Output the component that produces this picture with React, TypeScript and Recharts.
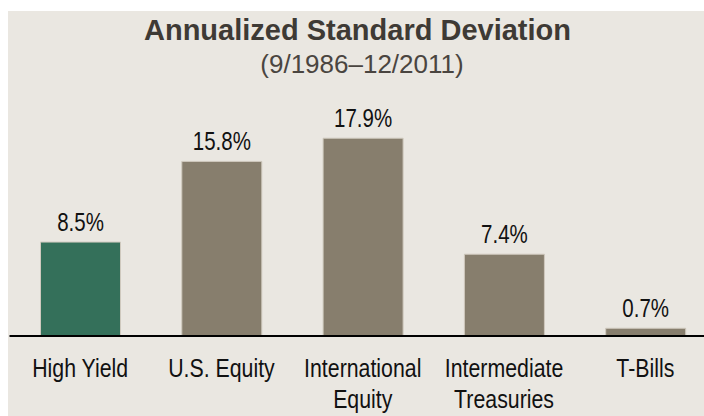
import React from 'react'
import { BarChart, Bar, XAxis, YAxis, Cell, LabelList } from 'recharts'

const categories = ['High Yield', 'U.S. Equity', 'International\nEquity', 'Intermediate\nTreasuries', 'T-Bills']
const stdDev = [8.5, 15.8, 17.9, 7.4, 0.7]
const barColors = ['#34705a', '#877e6d', '#877e6d', '#877e6d', '#877e6d']

const data = categories.map((name, i) => ({ name, value: stdDev[i] }))

const sans = "'Liberation Sans', Arial, sans-serif"
// no Arial Narrow installed, so squeeze Liberation Sans horizontally
const squeeze = 0.82

// eslint-disable-next-line @typescript-eslint/no-explicit-any
const CategoryTick = (props: any) => {
  const { x, y, payload } = props
  const lines = String(payload.value).split('\n')
  return (
    <g transform={`translate(${x},${y}) scale(${squeeze},1)`}>
      {lines.map((line, i) => (
        <text key={line} x={0} y={41 + i * 31} textAnchor="middle" fontFamily={sans} fontSize={26} fill="#111">
          {line}
        </text>
      ))}
    </g>
  )
}

// eslint-disable-next-line @typescript-eslint/no-explicit-any
const ValueLabel = (props: any) => {
  const { x, y, width, value } = props
  return (
    <g transform={`translate(${x + width / 2},${y - 11}) scale(${squeeze},1)`}>
      <text x={0} y={0} textAnchor="middle" fontFamily={sans} fontSize={25} fill="#111">
        {`${Number(value).toFixed(1)}%`}
      </text>
    </g>
  )
}

export default function App() {
  return (
    <div style={{ position: 'fixed', left: 8, top: 11, width: 710, height: 405, background: '#eae7e1', overflow: 'hidden' }}>
      <svg width={696} height={80} style={{ position: 'absolute', left: 0, top: 0 }}>
        <text x={349.5} y={29} textAnchor="middle" fontFamily={sans} fontWeight="bold" fontSize={29} fill="#3e3a35">
          Annualized Standard Deviation
        </text>
        <text x={354} y={62} textAnchor="middle" fontFamily={sans} fontSize={26} fill="#4a4540">
          (9/1986–12/2011)
        </text>
      </svg>
      <BarChart width={708} height={405} data={data} margin={{ top: 104, right: 0, bottom: 0, left: 1.5 }} barCategoryGap={0}>
        <XAxis
          dataKey="name"
          height={80}
          interval={0}
          tickLine={false}
          tickSize={0}
          tickMargin={0}
          axisLine={{ stroke: '#000', strokeWidth: 2 }}
          tick={<CategoryTick />}
        />
        <YAxis hide domain={[0, 20]} />
        <Bar dataKey="value" barSize={80} isAnimationActive={false} stroke="#cfc9be" strokeWidth={1}>
          {data.map((entry, index) => (
            <Cell key={entry.name} fill={barColors[index]} />
          ))}
          <LabelList dataKey="value" content={<ValueLabel />} />
        </Bar>
      </BarChart>
    </div>
  )
}
